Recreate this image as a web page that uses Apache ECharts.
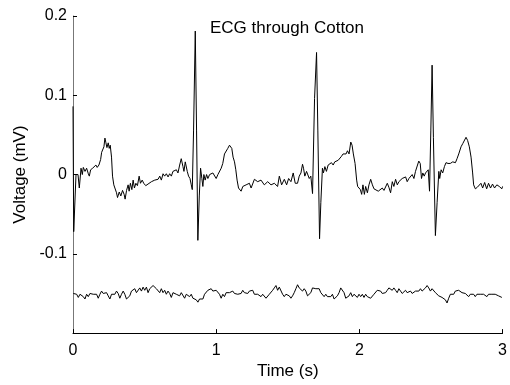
<!DOCTYPE html>
<html>
<head>
<meta charset="utf-8">
<script src="https://cdn.jsdelivr.net/npm/echarts@6/dist/echarts.min.js"></script>
<style>
html,body{margin:0;padding:0;background:#fff;}
#chart{width:510px;height:385px;}
</style>
</head>
<body>
<div id="chart"></div>
<script>
// ---- data ----
var chartTitle = 'ECG through Cotton';
var xAxisName = 'Time (s)';
var yAxisName = 'Voltage (mV)';
var xTickLabels = ['0', '1', '2', '3'];
var yTickLabels = ['-0.1', '0', '0.1', '0.2'];

// ECG recorded through cotton: time (s)
var ecgTime = [
0.000,0.005,0.021,0.035,0.044,0.056,0.065,0.072,0.084,0.095,0.107,0.114,0.123,0.137,0.146,0.160,0.169,0.181,0.193,0.200,
0.206,0.216,0.223,0.230,0.237,0.246,0.253,0.260,0.269,0.276,0.285,0.292,0.304,0.311,0.323,0.334,0.346,0.357,0.364,0.374,
0.385,0.392,0.401,0.411,0.420,0.429,0.439,0.450,0.462,0.471,0.483,0.494,0.508,0.524,0.536,0.548,0.559,0.571,0.582,0.594,
0.606,0.617,0.629,0.640,0.652,0.664,0.675,0.687,0.698,
0.710,0.722,0.733,0.745,0.756,0.768,0.775,0.784,0.798,0.807,0.817,0.826,0.833,0.842,0.854,0.863,0.872,0.882,0.891,0.900,
0.907,0.914,0.923,0.933,0.942,0.954,0.965,0.977,0.988,1.000,1.012,1.023,1.035,1.046,1.058,1.070,1.081,1.093,1.100,1.109,
1.118,1.128,1.137,1.146,1.156,1.165,1.174,1.186,1.198,1.209,1.220,1.232,
1.244,1.267,1.290,1.313,1.336,1.360,1.383,1.406,1.429,1.441,1.457,1.476,1.492,1.506,1.522,1.538,1.552,1.568,1.580,1.592,
1.603,1.610,1.619,1.631,1.643,1.650,1.661,1.673,1.687,1.701,1.710,1.722,1.731,1.742,1.749,1.759,1.770,1.782,1.793,1.805,
1.817,1.828,1.840,1.852,1.863,1.875,1.886,1.898,1.907,1.917,1.928,1.940,1.949,1.958,1.970,1.981,1.988,1.998,2.007,2.016,
2.025,2.035,2.044,2.056,2.067,2.079,2.091,2.102,2.114,2.132,2.144,2.160,2.172,2.183,2.195,2.206,2.218,2.230,2.241,2.253,
2.265,2.276,2.288,2.299,2.311,2.323,2.334,2.346,2.357,2.369,2.381,2.392,2.404,2.415,2.425,2.434,2.443,2.453,2.462,2.474,
2.481,2.490,2.499,2.508,2.517,2.531,2.543,2.555,2.561,2.571,2.582,2.594,2.605,2.619,2.635,2.652,2.671,2.682,2.694,2.710,
2.722,2.733,2.745,2.756,2.768,2.780,2.791,2.798,2.810,2.824,2.837,2.849,2.861,2.875,2.889,2.902,2.916,2.930,2.944,2.960,
2.977,2.995,3.000
];
// ECG recorded through cotton: voltage (mV)
var ecgVolt = [
0.086,-0.072,0.000,0.000,-0.017,0.008,0.000,0.009,0.004,0.008,0.001,-0.002,0.006,0.008,0.010,0.012,0.009,0.012,0.019,0.028,
0.030,0.035,0.046,0.040,0.034,0.040,0.033,0.037,0.022,-0.002,-0.013,-0.015,-0.023,-0.029,-0.022,-0.027,-0.020,-0.025,-0.031,-0.020,
-0.013,-0.021,-0.011,-0.019,-0.007,-0.017,-0.011,-0.014,-0.002,-0.011,-0.007,-0.011,-0.014,-0.012,-0.013,-0.009,-0.011,-0.007,-0.009,-0.006,
-0.002,-0.007,0.001,-0.002,0.001,-0.003,0.001,-0.002,0.004,
0.002,0.006,0.002,0.012,0.020,0.010,0.004,0.016,0.004,-0.002,-0.005,-0.013,-0.019,0.055,0.181,0.055,-0.083,-0.027,0.008,-0.005,
-0.015,0.000,-0.007,0.000,-0.005,0.000,-0.002,0.002,0.000,-0.005,0.000,0.002,0.008,0.014,0.026,0.027,0.033,0.037,0.039,0.033,
0.022,0.016,0.006,-0.007,-0.017,-0.015,-0.021,-0.015,-0.017,-0.013,-0.015,-0.011,
-0.017,-0.006,-0.009,-0.007,-0.013,-0.009,-0.013,-0.011,-0.015,-0.002,-0.013,-0.006,-0.013,-0.005,-0.009,0.002,-0.011,-0.011,-0.002,0.002,
0.013,0.008,-0.002,0.004,0.002,-0.005,-0.002,-0.024,0.096,0.154,0.055,-0.081,-0.035,0.008,0.002,0.010,0.004,0.012,0.010,0.015,
0.012,0.016,0.014,0.018,0.016,0.023,0.026,0.028,0.026,0.030,0.026,0.041,0.037,0.026,0.014,-0.007,-0.015,-0.013,-0.019,-0.025,
-0.013,-0.025,-0.015,-0.023,-0.013,-0.006,-0.013,-0.018,-0.020,-0.021,-0.019,-0.017,-0.020,-0.019,-0.011,-0.016,-0.023,-0.009,-0.015,-0.006,
-0.013,-0.009,-0.011,-0.005,-0.007,-0.003,-0.009,-0.005,-0.006,0.000,-0.005,0.004,0.002,0.017,0.014,-0.005,0.002,-0.002,0.002,0.002,
0.006,-0.021,0.055,0.138,0.047,-0.077,-0.035,0.004,-0.005,0.006,0.002,0.010,0.015,0.014,0.014,0.016,0.015,0.020,0.026,0.035,
0.039,0.041,0.047,0.043,0.035,0.022,0.002,-0.013,-0.018,-0.016,-0.017,-0.011,-0.017,-0.010,-0.018,-0.011,-0.017,-0.012,-0.017,-0.013,
-0.015,-0.018,-0.015
];

// Lower trace (noise baseline): sampled every noiseStep seconds from noiseStart
var noiseStart = 0.0023;
var noiseStep = 0.0116;
var noiseVolt = [
-0.150,-0.149,-0.151,-0.155,-0.151,-0.150,-0.154,-0.157,-0.151,-0.154,-0.150,-0.149,-0.151,-0.149,-0.151,-0.156,-0.151,-0.147,-0.150,-0.151,
-0.149,-0.153,-0.157,-0.151,-0.149,-0.151,-0.147,-0.150,-0.156,-0.151,-0.147,-0.151,-0.157,-0.159,-0.153,-0.147,-0.149,-0.144,-0.149,-0.147,
-0.143,-0.147,-0.142,-0.146,-0.142,-0.149,-0.144,-0.146,-0.140,-0.138,-0.144,-0.142,-0.149,-0.144,-0.149,-0.146,-0.151,-0.147,-0.150,-0.155,
-0.149,-0.147,-0.151,-0.149,-0.153,-0.149,-0.151,-0.156,-0.151,-0.150,-0.154,-0.151,-0.156,-0.155,-0.158,-0.161,-0.157,-0.155,-0.157,-0.151,
-0.149,-0.146,-0.147,-0.144,-0.147,-0.149,-0.146,-0.147,-0.151,-0.156,-0.151,-0.154,-0.149,-0.151,-0.149,-0.151,-0.147,-0.150,-0.149,-0.151,
-0.149,-0.150,-0.146,-0.149,-0.147,-0.150,-0.147,-0.149,-0.146,-0.151,-0.149,-0.151,-0.149,-0.154,-0.151,-0.149,-0.156,-0.157,-0.151,-0.149,
-0.146,-0.143,-0.140,-0.146,-0.142,-0.144,-0.151,
-0.154,-0.151,-0.151,-0.153,-0.156,-0.153,-0.149,-0.144,-0.139,-0.143,-0.142,-0.147,-0.144,-0.147,-0.153,-0.155,-0.149,-0.143,-0.142,-0.144,
-0.146,-0.144,-0.149,-0.151,-0.154,-0.151,-0.154,-0.156,-0.154,-0.151,-0.157,-0.158,-0.153,-0.149,-0.143,-0.142,-0.149,-0.156,-0.158,-0.153,
-0.149,-0.154,-0.151,-0.150,-0.155,-0.151,-0.154,-0.151,-0.155,-0.151,-0.154,-0.153,-0.156,-0.155,-0.151,-0.149,-0.146,-0.144,-0.147,-0.150,
-0.151,-0.149,-0.146,-0.143,-0.144,-0.146,-0.143,-0.146,-0.149,-0.144,-0.147,-0.150,-0.151,-0.146,-0.149,-0.151,-0.147,-0.150,-0.151,-0.147,
-0.146,-0.147,-0.144,-0.147,-0.146,-0.143,-0.140,-0.143,-0.147,-0.144,-0.146,-0.149,-0.151,-0.153,-0.151,-0.155,-0.156,-0.158,-0.162,-0.156,
-0.151,-0.149,-0.151,-0.147,-0.149,-0.146,-0.144,-0.149,-0.151,-0.150,-0.151,-0.154,-0.151,-0.153,-0.151,-0.154,-0.151,-0.153,-0.151,-0.153,
-0.151,-0.153,-0.154,-0.151,-0.151,-0.151,-0.151,-0.151,-0.153,-0.153,-0.154,-0.155
];

// ---- build ----
var ecgData = ecgTime.map(function (t, i) { return [t, ecgVolt[i]]; });
var noiseData = noiseVolt.map(function (v, i) { return [noiseStart + i * noiseStep, v]; });

var FONT = '"Liberation Sans", Arial, sans-serif';
var chart = echarts.init(document.getElementById('chart'), null, {renderer: 'canvas'});
chart.setOption({
  animation: false,
  backgroundColor: '#ffffff',
  title: {
    text: chartTitle,
    left: 210,
    top: 20,
    padding: 0,
    textStyle: {fontFamily: FONT, fontSize: 17, fontWeight: 'normal', color: '#000'}
  },
  grid: {left: 73, right: 6, top: 16, bottom: 45, containLabel: false},
  xAxis: {
    type: 'value',
    min: 0, max: 3, interval: 1,
    name: xAxisName,
    nameLocation: 'middle',
    nameGap: 26,
    nameTextStyle: {fontFamily: FONT, fontSize: 17, color: '#000'},
    axisLine: {show: true, onZero: false, lineStyle: {color: '#000', width: 1}},
    axisTick: {show: true, inside: true, length: 4, lineStyle: {color: '#000'}},
    axisLabel: {
      fontFamily: FONT, fontSize: 16, color: '#000', margin: 9,
      formatter: function (v) { var i = Math.round(v); return xTickLabels[i] !== undefined ? xTickLabels[i] : ''; }
    },
    splitLine: {show: false}
  },
  yAxis: {
    type: 'value',
    min: -0.2, max: 0.2, interval: 0.1,
    name: yAxisName,
    nameLocation: 'middle',
    nameGap: 41,
    nameTextStyle: {fontFamily: FONT, fontSize: 17, color: '#000'},
    axisLine: {show: true, onZero: false, lineStyle: {color: '#777', width: 1}},
    axisTick: {show: true, inside: true, length: 4, lineStyle: {color: '#000'}},
    axisLabel: {
      fontFamily: FONT, fontSize: 16, color: '#000', margin: 6,
      formatter: function (v) {
        var i = Math.round(v * 10) + 1;
        return (i >= 0 && i < yTickLabels.length) ? yTickLabels[i] : '';
      }
    },
    splitLine: {show: false}
  },
  series: [
    {
      type: 'line', data: ecgData, showSymbol: false, symbol: 'none',
      lineStyle: {color: '#000', width: 1}, z: 3
    },
    {
      type: 'line', data: noiseData, showSymbol: false, symbol: 'none',
      lineStyle: {color: '#000', width: 1}, z: 3
    }
  ]
});
</script>
</body>
</html>
